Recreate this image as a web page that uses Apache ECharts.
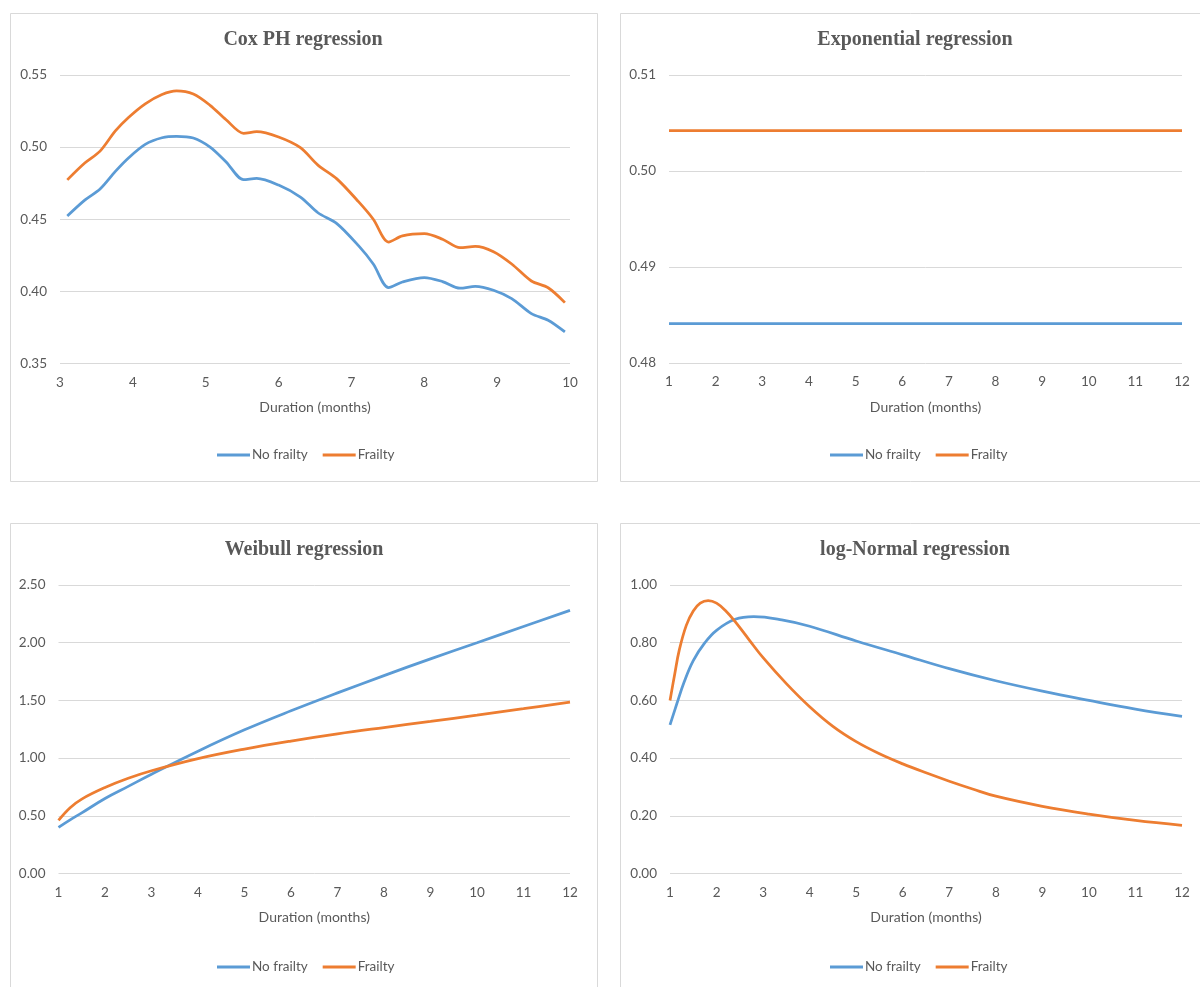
<!DOCTYPE html>
<html><head><meta charset="utf-8">
<script src="https://cdn.jsdelivr.net/npm/echarts@6/dist/echarts.min.js"></script>
<style>html,body{margin:0;padding:0;background:#fff;overflow:hidden}#c{width:1200px;height:987px}</style>
</head><body><div id="c"></div><script>
// ---- Data ----
const seriesNames = ['No frailty', 'Frailty'];
const xAxisTitle = 'Duration (months)';
const panelTitles = ['Cox PH regression', 'Exponential regression', 'Weibull regression', 'log-Normal regression'];

// Cox PH regression
const coxMonths    = [3.1, 3.34, 3.55, 3.76, 3.94, 4.17, 4.4, 4.6, 4.83, 5.06, 5.28, 5.52, 5.7, 6.0, 6.3, 6.54, 6.8, 7.1, 7.3, 7.51, 7.7, 8.0, 8.25, 8.49, 8.7, 8.95, 9.2, 9.47, 9.7, 9.93];
const coxNoFrailty = [0.4523, 0.4633, 0.471, 0.4832, 0.4925, 0.5019, 0.5065, 0.5075, 0.5063, 0.5, 0.4897, 0.4775, 0.4783, 0.4737, 0.4654, 0.4545, 0.447, 0.4315, 0.419, 0.4026, 0.4065, 0.4096, 0.4068, 0.4022, 0.4035, 0.4008, 0.395, 0.3846, 0.380, 0.3719];
const coxFrailty   = [0.4773, 0.489, 0.4972, 0.5112, 0.5205, 0.530, 0.5365, 0.539, 0.5368, 0.529, 0.519, 0.5096, 0.5107, 0.507, 0.4996, 0.4875, 0.478, 0.462, 0.450, 0.4342, 0.4385, 0.440, 0.4362, 0.4303, 0.4312, 0.4275, 0.419, 0.4072, 0.4025, 0.3922];
const coxTicksY = { min: 0.35, max: 0.55, step: 0.05 };
const coxTicksX = { min: 3, max: 10, step: 1 };

// Exponential regression
const expMonths    = [1, 2, 3, 4, 5, 6, 7, 8, 9, 10, 11, 12];
const expNoFrailty = [0.4841, 0.4841, 0.4841, 0.4841, 0.4841, 0.4841, 0.4841, 0.4841, 0.4841, 0.4841, 0.4841, 0.4841];
const expFrailty   = [0.5042, 0.5042, 0.5042, 0.5042, 0.5042, 0.5042, 0.5042, 0.5042, 0.5042, 0.5042, 0.5042, 0.5042];
const expTicksY = { min: 0.48, max: 0.51, step: 0.01 };

// Weibull regression
const weibMonths    = [1, 1.25, 1.5, 2, 2.5, 3, 4, 5, 6, 7, 8, 9, 10, 11, 12];
const weibNoFrailty = [0.40, 0.465, 0.525, 0.65, 0.755, 0.86, 1.06, 1.245, 1.41, 1.565, 1.715, 1.86, 2.00, 2.14, 2.28];
const weibFrailty   = [0.46, 0.57, 0.645, 0.745, 0.825, 0.89, 0.995, 1.078, 1.148, 1.21, 1.265, 1.318, 1.372, 1.428, 1.485];
const weibTicksY = { min: 0, max: 2.5, step: 0.5 };

// log-Normal regression
const lnMonthsA   = [1, 1.15, 1.3, 1.5, 1.75, 2, 2.4, 2.8, 3.4, 4, 5, 6, 7, 8, 9, 10, 11, 12];
const lnNoFrailty = [0.515, 0.59, 0.662, 0.738, 0.80, 0.843, 0.881, 0.890, 0.879, 0.857, 0.806, 0.758, 0.71, 0.668, 0.632, 0.60, 0.57, 0.545];
const lnMonthsB   = [1, 1.1, 1.2, 1.35, 1.5, 1.65, 1.82, 2, 2.2, 2.4, 2.7, 3, 3.5, 4, 4.5, 5, 5.5, 6, 6.5, 7, 7.5, 8, 9, 10, 11, 12];
const lnFrailty   = [0.60, 0.69, 0.775, 0.86, 0.91, 0.937, 0.946, 0.937, 0.91, 0.873, 0.81, 0.748, 0.658, 0.578, 0.51, 0.457, 0.415, 0.38, 0.349, 0.32, 0.293, 0.268, 0.233, 0.206, 0.184, 0.167];
const lnTicksY = { min: 0, max: 1.0, step: 0.2 };
const monthTicks12 = { min: 1, max: 12, step: 1 };

// ---- Chart ----
const BLUE = '#5B9BD5', ORANGE = '#ED7D31', TXT = '#595959', GRID = '#d9d9d9';
const LBL_FONT = 'Lato, "Open Sans", sans-serif';
const pairs = (xs, ys) => xs.map((x, i) => [x, ys[i]]);

const panels = [
  { box: [10, 13, 587, 468],  grid: { left: 60,  top: 75,  width: 510, height: 288.5 }, tx: 303, ty: 30,  lx: 217, ly: 448, xt: coxTicksX,   yt: coxTicksY,
    data: [pairs(coxMonths, coxNoFrailty), pairs(coxMonths, coxFrailty)], smooth: 0.3 },
  { box: [620, 13, 600, 468], grid: { left: 669, top: 75,  width: 513, height: 288 },   tx: 915, ty: 30,  lx: 830, ly: 448, xt: monthTicks12, yt: expTicksY,
    data: [pairs(expMonths, expNoFrailty), pairs(expMonths, expFrailty)], smooth: false },
  { box: [10, 523, 587, 480], grid: { left: 58.5, top: 585, width: 511.5, height: 288.5 }, tx: 304, ty: 540, lx: 217, ly: 960, xt: monthTicks12, yt: weibTicksY,
    data: [pairs(weibMonths, weibNoFrailty), pairs(weibMonths, weibFrailty)], smooth: 0.4 },
  { box: [620, 523, 600, 480], grid: { left: 670, top: 585, width: 512, height: 288.5 }, tx: 915, ty: 540, lx: 830, ly: 960, xt: monthTicks12, yt: lnTicksY,
    data: [pairs(lnMonthsA, lnNoFrailty), pairs(lnMonthsB, lnFrailty)], smooth: 0.4 }
];

const option = {
  backgroundColor: '#fff',
  animation: false,
  graphic: panels.map(p => ({ type: 'rect', shape: { x: p.box[0] + 0.5, y: p.box[1] + 0.5, width: p.box[2], height: p.box[3] },
    style: { fill: 'none', stroke: GRID, lineWidth: 1 }, silent: true, z: -1 })),
  title: panels.map((p, i) => ({ text: panelTitles[i], left: p.tx, top: p.ty, textAlign: 'center', padding: 0,
    textStyle: { fontFamily: '"Liberation Serif", serif', fontWeight: 'bold', fontSize: 20, color: TXT } })),
  legend: panels.map(p => ({ data: seriesNames, left: p.lx, top: p.ly, padding: 0, icon: 'rect', itemWidth: 33, itemHeight: 3, itemGap: 15,
    textStyle: { fontFamily: LBL_FONT, fontSize: 13.5, color: TXT, padding: [0, 0, 0, -3] } })),
  grid: panels.map(p => Object.assign({ containLabel: false }, p.grid)),
  xAxis: panels.map((p, i) => ({ type: 'value', gridIndex: i, min: p.xt.min, max: p.xt.max, interval: p.xt.step,
    name: xAxisTitle, nameLocation: 'middle', nameGap: 37,
    nameTextStyle: { fontFamily: LBL_FONT, fontSize: 14, color: TXT },
    axisLine: { show: false }, axisTick: { show: false }, splitLine: { show: false },
    axisLabel: { fontFamily: LBL_FONT, fontSize: 13.5, color: TXT, margin: 12, showMinLabel: true, showMaxLabel: true } })),
  yAxis: panels.map((p, i) => ({ type: 'value', gridIndex: i, min: p.yt.min, max: p.yt.max, interval: p.yt.step,
    axisLine: { show: false }, axisTick: { show: false },
    splitLine: { show: true, lineStyle: { color: GRID, width: 1 } },
    axisLabel: { fontFamily: LBL_FONT, fontSize: 13.5, color: TXT, margin: 13, formatter: v => v.toFixed(2) } })),
  series: []
};
panels.forEach((p, i) => {
  [0, 1].forEach(k => {
    option.series.push({ type: 'line', name: seriesNames[k], xAxisIndex: i, yAxisIndex: i, data: p.data[k],
      showSymbol: false, smooth: p.smooth, color: k === 0 ? BLUE : ORANGE,
      lineStyle: { width: 2.75, color: k === 0 ? BLUE : ORANGE } });
  });
});
const chart = echarts.init(document.getElementById('c'), null, { renderer: 'canvas' });
chart.setOption(option);
</script></body></html>
